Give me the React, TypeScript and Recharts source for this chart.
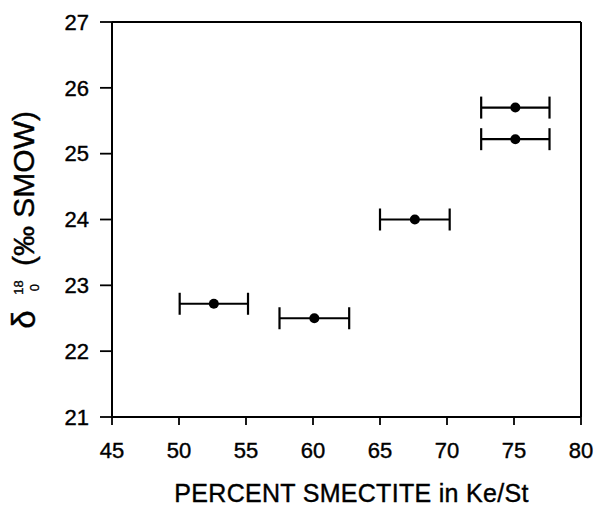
import React from 'react';
import { ScatterChart, Scatter, XAxis, YAxis, ErrorBar, ReferenceLine } from 'recharts';

const smectite = [52.6, 60.1, 67.6, 75.1, 75.1];
const delta18O = [22.72, 22.5, 24.0, 25.7, 25.22];
const smectiteErr = [2.55, 2.6, 2.6, 2.55, 2.55];
const xTicks = [45, 50, 55, 60, 65, 70, 75, 80];
const yTicks = [21, 22, 23, 24, 25, 26, 27];

const data = smectite.map((x, i) => ({ x, y: delta18O[i], err: smectiteErr[i] }));

const FONT = '"Liberation Sans", Arial, Helvetica, sans-serif';

const XLabel = (props: any) => {
  const vb = props.viewBox || {};
  const cx = vb.x + vb.width / 2 + 5;
  return (
    <text x={cx} y={vb.y + 85} textAnchor="middle" fontSize={25} letterSpacing={0.3} fontFamily={FONT} fill="#000" stroke="#000" strokeWidth={0.4}>
      PERCENT SMECTITE in Ke/St
    </text>
  );
};

const YLabel = (props: any) => {
  const vb = props.viewBox || {};
  const cy = vb.y + vb.height / 2;
  const bx = 34;
  const mainY = cy - 31;
  const deltaY = cy + 100;
  const isoY = cy + 68;
  return (
    <g fontFamily={FONT} fill="#000" stroke="#000" strokeWidth={0.4}>
      <text x={bx} y={mainY} transform={`rotate(-90, ${bx}, ${mainY})`} textAnchor="middle" fontSize={30}>
        (‰ SMOW)
      </text>
      <text x={bx + 1} y={deltaY} transform={`rotate(-90, ${bx + 1}, ${deltaY})`} textAnchor="middle" fontSize={33}>
        δ
      </text>
      <text x={23} y={isoY} transform={`rotate(-90, 23, ${isoY})`} textAnchor="middle" fontSize={13} strokeWidth={0.3}>
        18
      </text>
      <text x={39} y={isoY} transform={`rotate(-90, 39, ${isoY})`} textAnchor="middle" fontSize={13} strokeWidth={0.3}>
        0
      </text>
    </g>
  );
};

const Dot = (props: any) => <circle cx={props.cx} cy={props.cy} r={5} fill="#000" />;

const tickStyle = { fill: '#000', fontSize: 22, fontFamily: FONT, stroke: '#000', strokeWidth: 0.4 };

export default function App() {
  return (
    <div style={{ position: 'absolute', left: 0, top: 0, background: '#fff' }}>
      <ScatterChart width={594} height={507} margin={{ top: 22, right: 13, bottom: 0, left: 0 }}>
        <XAxis
          type="number"
          dataKey="x"
          domain={[45, 80]}
          ticks={xTicks}
          interval={0}
          height={90}
          tickSize={8}
          tickMargin={17}
          axisLine={{ stroke: '#000', strokeWidth: 2 }}
          tickLine={{ stroke: '#000', strokeWidth: 1.8 }}
          tick={tickStyle}
          label={<XLabel />}
        />
        <YAxis
          type="number"
          dataKey="y"
          domain={[21, 27]}
          ticks={yTicks}
          interval={0}
          width={112}
          tickSize={12}
          tickMargin={11}
          axisLine={{ stroke: '#000', strokeWidth: 2 }}
          tickLine={{ stroke: '#000', strokeWidth: 1.8 }}
          tick={tickStyle}
          label={<YLabel />}
        />
        <ReferenceLine y={27} stroke="#000" strokeWidth={2} />
        <ReferenceLine x={80} stroke="#000" strokeWidth={2} />
        <Scatter data={data} shape={<Dot />} isAnimationActive={false}>
          <ErrorBar dataKey="err" direction="x" width={11} stroke="#000" strokeWidth={2.2} />
        </Scatter>
      </ScatterChart>
    </div>
  );
}
